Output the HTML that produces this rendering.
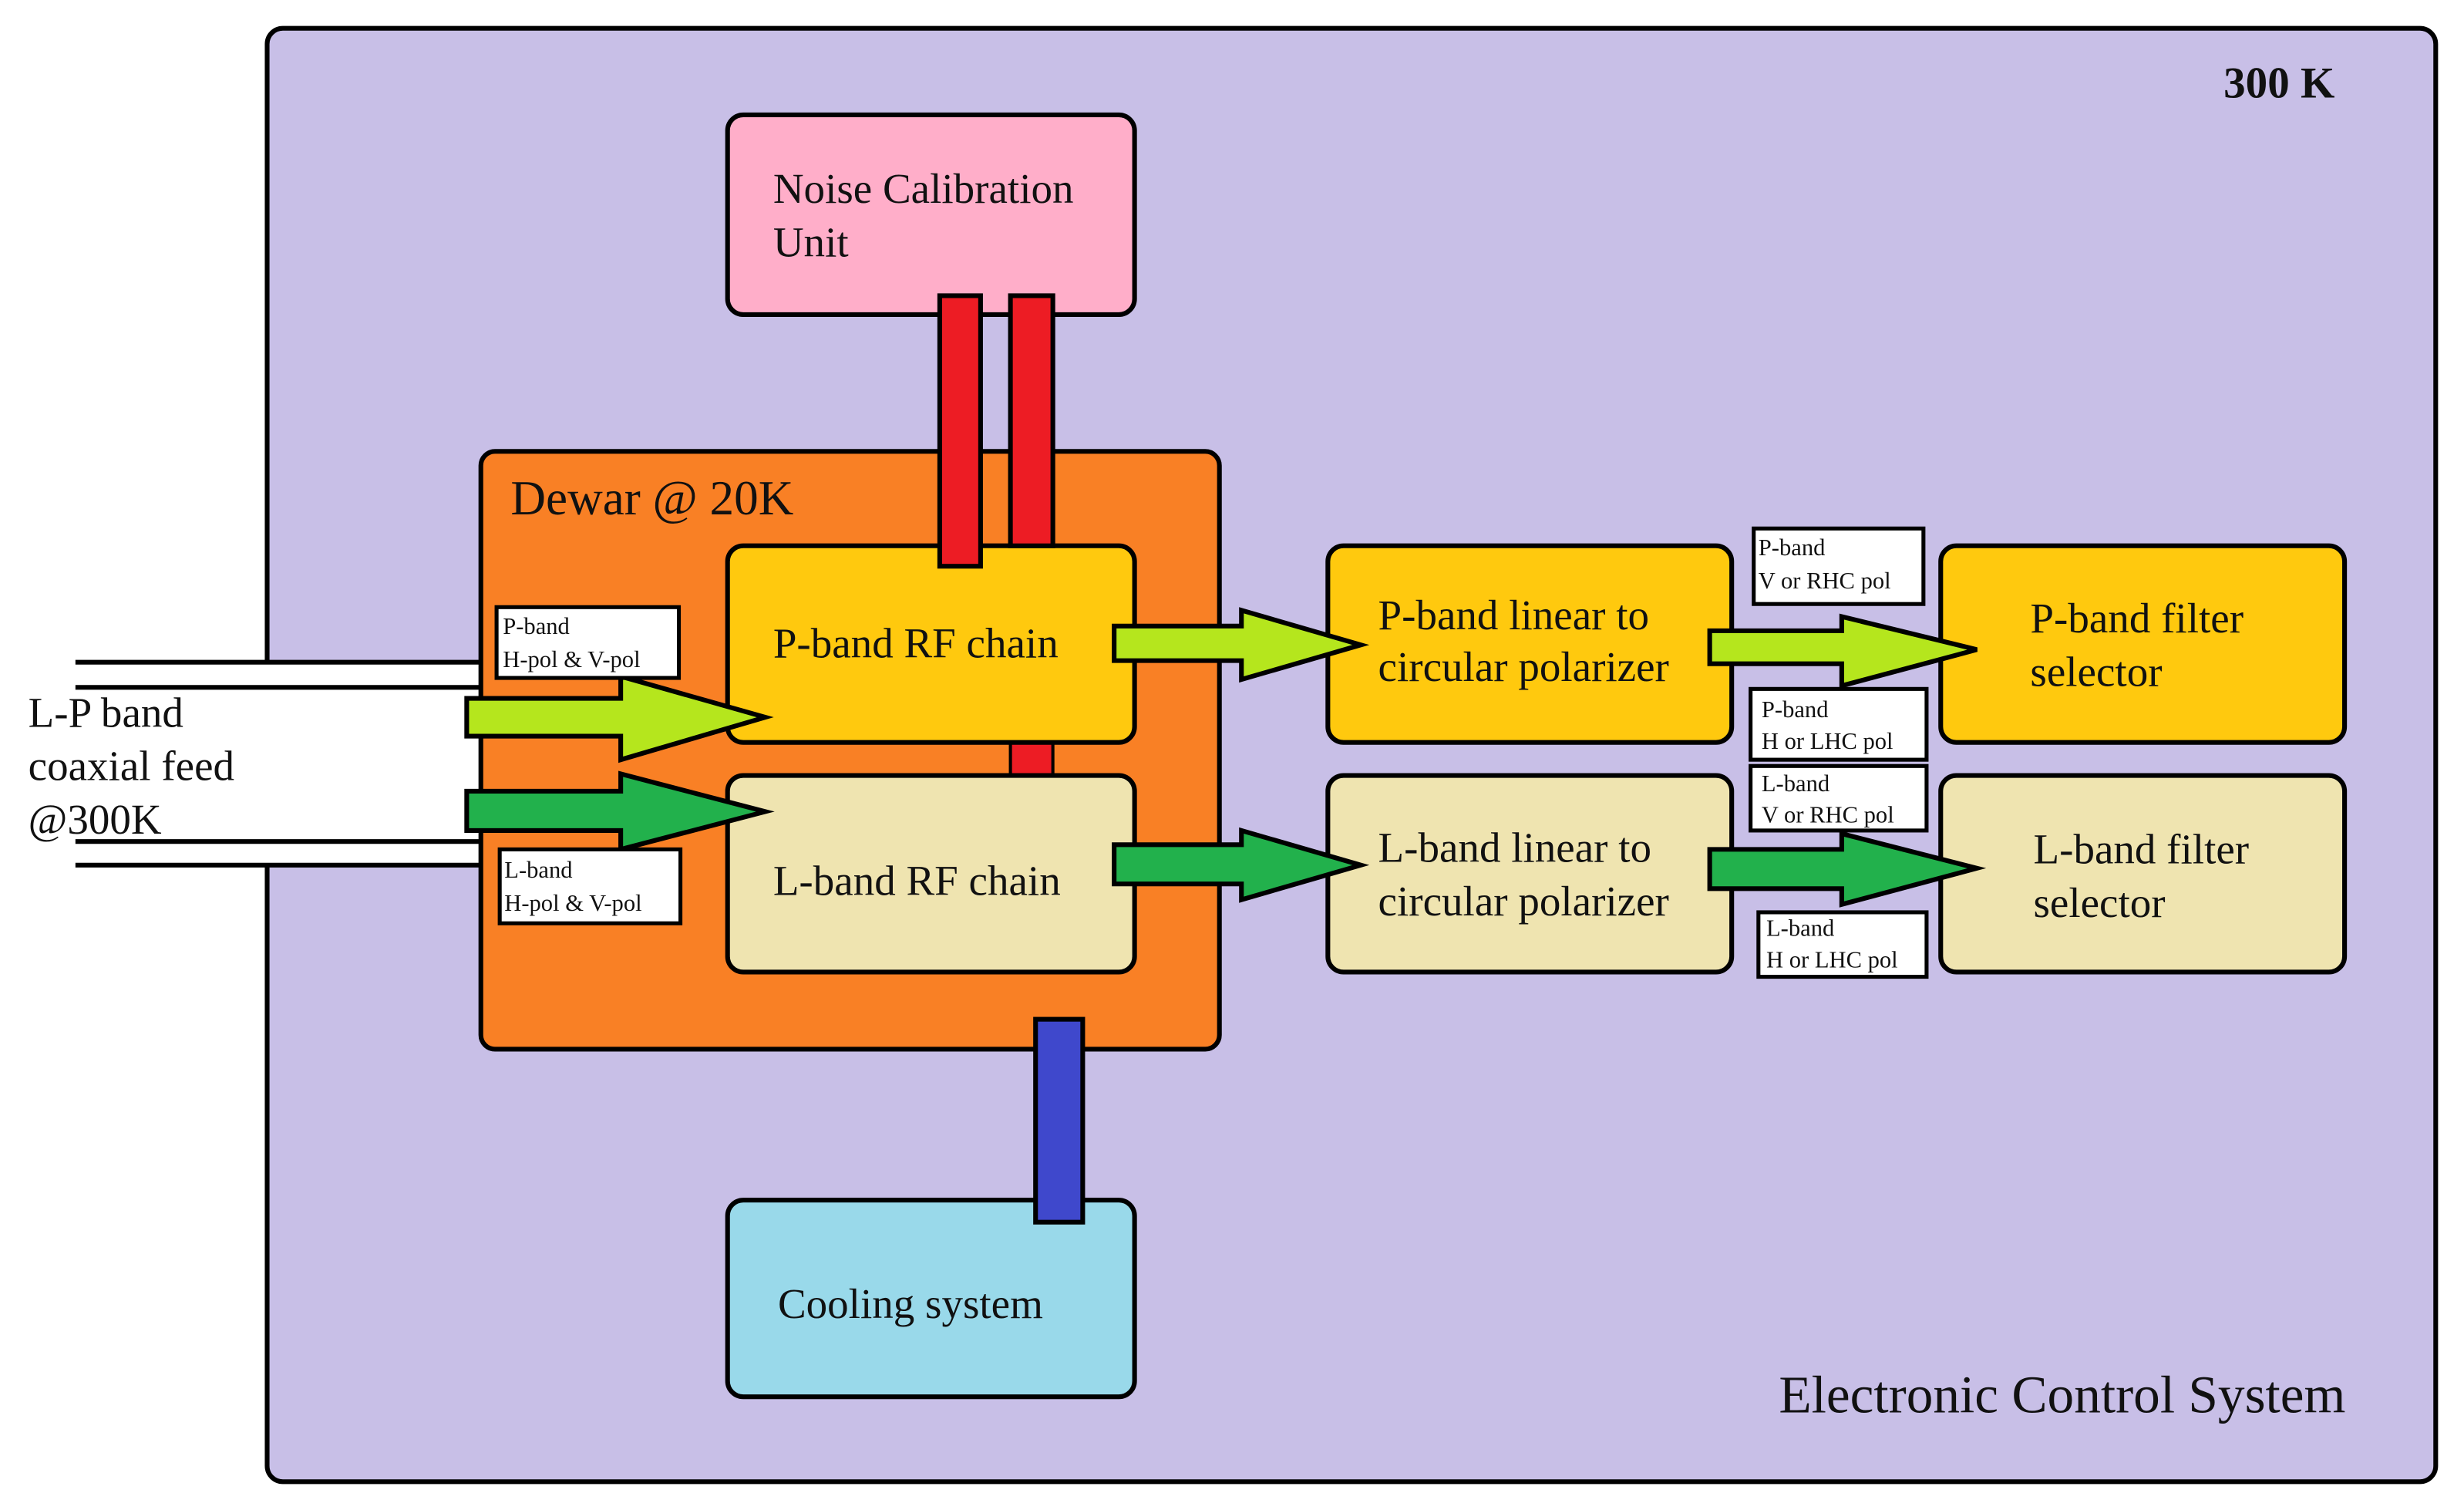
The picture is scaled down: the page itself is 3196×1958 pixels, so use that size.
<!DOCTYPE html>
<html><head><meta charset="utf-8"><style>
html,body{margin:0;padding:0;background:#fff;}
svg{display:block;}
text{font-family:"Liberation Serif",serif;fill:#111;}
</style></head><body>
<svg width="3196" height="1958" viewBox="0 0 1568 960" preserveAspectRatio="none" xmlns="http://www.w3.org/2000/svg">
<rect x="0" y="0" width="1568" height="960" fill="#fff"/>
<rect x="170" y="18" width="1380" height="924" rx="10" fill="#C8BFE7" stroke="#000" stroke-width="3"/>
<!-- coax -->
<rect x="40" y="421" width="268" height="129" fill="#fff"/>
<g stroke="#000" stroke-width="3">
<line x1="48" y1="421" x2="308" y2="421"/>
<line x1="48" y1="437" x2="308" y2="437"/>
<line x1="48" y1="535" x2="308" y2="535"/>
<line x1="48" y1="550" x2="308" y2="550"/>
</g>
<text x="18" y="462" font-size="27">L-P band</text>
<text x="18" y="496" font-size="27">coaxial feed</text>
<text x="18" y="530" font-size="27">@300K</text>
<!-- dewar -->
<rect x="306" y="287" width="470" height="380" rx="9" fill="#F98025" stroke="#000" stroke-width="3"/>
<text x="325" y="327" font-size="31">Dewar @ 20K</text>
<!-- red bars -->
<rect x="643" y="470" width="27" height="42" fill="#ED1C24" stroke="#000" stroke-width="2"/>
<!-- boxes -->
<g stroke="#000" stroke-width="3">
<rect x="463" y="73" width="259" height="127" rx="10" fill="#FFAEC9"/>
<rect x="463" y="347" width="259" height="125" rx="10" fill="#FFC90E"/>
<rect x="463" y="493" width="259" height="125" rx="10" fill="#EFE4B0"/>
<rect x="463" y="763" width="259" height="125" rx="10" fill="#99D9EA"/>
<rect x="845" y="347" width="257" height="125" rx="10" fill="#FFC90E"/>
<rect x="845" y="493" width="257" height="125" rx="10" fill="#EFE4B0"/>
<rect x="1235" y="347" width="257" height="125" rx="10" fill="#FFC90E"/>
<rect x="1235" y="493" width="257" height="125" rx="10" fill="#EFE4B0"/>
</g>
<g stroke="#000" stroke-width="3">
<rect x="598" y="188" width="26" height="172" fill="#ED1C24"/>
<rect x="643" y="188" width="27" height="159" fill="#ED1C24"/>
<rect x="659" y="648" width="30" height="129" fill="#3F48CC"/>
</g>
<g font-size="27">
<text x="492" y="129">Noise Calibration</text>
<text x="492" y="163">Unit</text>
<text x="492" y="418">P-band RF chain</text>
<text x="492" y="569">L-band RF chain</text>
<text x="495" y="838">Cooling system</text>
<text x="877" y="400">P-band linear to</text>
<text x="877" y="433">circular polarizer</text>
<text x="877" y="548">L-band linear to</text>
<text x="877" y="582">circular polarizer</text>
<text x="1292" y="402">P-band filter</text>
<text x="1292" y="436">selector</text>
<text x="1294" y="549">L-band filter</text>
<text x="1294" y="583">selector</text>
</g>
<!-- arrows -->
<g stroke="#000" stroke-width="3" stroke-linejoin="miter">
<polygon points="297,444 395,444 395,430 487,456 395,483 395,468 297,468" fill="#B5E61D"/>
<polygon points="297,503 395,503 395,492 487,516 395,540 395,528 297,528" fill="#22B14C"/>
<polygon points="709,398 790,398 790,388 866,410 790,432 790,420 709,420" fill="#B5E61D"/>
<polygon points="1088,401 1172,401 1172,392 1258,413 1172,436 1172,422 1088,422" fill="#B5E61D"/>
<polygon points="709,537 790,537 790,528 866,550 790,572 790,562 709,562" fill="#22B14C"/>
<polygon points="1088,540 1172,540 1172,530 1258,552 1172,575 1172,565 1088,565" fill="#22B14C"/>
</g>
<!-- label boxes -->
<g stroke="#000" stroke-width="2.5" fill="#fff">
<rect x="316" y="386" width="116" height="45"/>
<rect x="318" y="540" width="115" height="47"/>
<rect x="1116" y="336" width="108" height="48"/>
<rect x="1114" y="438" width="112" height="45"/>
<rect x="1114" y="487" width="112" height="41"/>
<rect x="1119" y="580" width="107" height="41"/>
</g>
<g font-size="15">
<text x="320" y="403">P-band</text><text x="320" y="424">H-pol &amp; V-pol</text>
<text x="321" y="558">L-band</text><text x="321" y="579">H-pol &amp; V-pol</text>
<text x="1119" y="353">P-band</text><text x="1119" y="374">V or RHC pol</text>
<text x="1121" y="456">P-band</text><text x="1121" y="476">H or LHC pol</text>
<text x="1121" y="503">L-band</text><text x="1121" y="523">V or RHC pol</text>
<text x="1124" y="595">L-band</text><text x="1124" y="615">H or LHC pol</text>
</g>
<text x="1415" y="62" font-size="28" font-weight="bold">300 K</text>
<text x="1132" y="898" font-size="34">Electronic Control System</text>
</svg>
</body></html>
